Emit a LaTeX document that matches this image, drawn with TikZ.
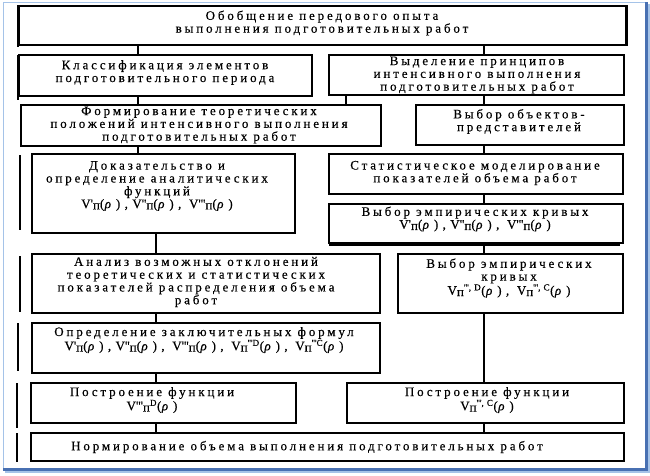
\documentclass[tikz,border=0pt]{standalone}
\usepackage{fontspec}
\setmainfont{Liberation Serif}[LetterSpace=22, FakeBold=0.35]
\definecolor{framelight}{RGB}{165,195,232}
\definecolor{framedark}{RGB}{72,112,178}
\newcommand\q{\textquotesingle}
\newcommand\pn{\raisebox{-1.3pt}{п}}
\newcommand\rh{(\kern0.5pt\textit{ρ}\kern0.5pt)}
\newcommand\sps[1]{\textsuperscript{#1}}
\newcommand\fm[1]{{\addfontfeature{LetterSpace=34}#1}}
\tikzset{
  bx/.style={draw=black, line width=1.1pt, inner sep=0pt, outer sep=0pt, anchor=north west},
  tx/.style={align=center, inner sep=0pt, font=\fontsize{13}{12.8}\selectfont, text=black},
  conn/.style={draw=black, line width=1.1pt},
  bar/.style={draw=black, line width=2pt},
}
\newcommand\mkbox[5]{\node[bx, minimum width={(#4-#2)*1pt}, minimum height={(#5-#3)*1pt}] (#1) at (#2,#3) {};}
\begin{document}
\begin{tikzpicture}[x=1pt,y=-1pt]
\fill[white] (0,0) rectangle (650,475);
\useasboundingbox (0,0) rectangle (650,475);
% frame
\draw[framelight, line width=1pt] (3,2) -- (646,2);
\draw[framelight, line width=1pt] (3,2) -- (3,469);
\draw[framedark, line width=2.5pt] (646.5,2) -- (646.5,469.5) -- (3,469.5);
\draw[framelight, line width=1.2pt] (649,4) -- (649,472) -- (5,472);
% boxes
\mkbox{top}{19}{6}{626}{45}
\mkbox{klass}{19}{55}{312}{96}
\mkbox{vydel}{329}{55}{624}{95}
\mkbox{formir}{21}{105}{381}{146}
\mkbox{vobj}{416}{105}{624}{145}
\mkbox{dokaz}{32}{154}{295}{233}
\mkbox{stat}{329}{154}{623}{194}
\mkbox{vemp}{329}{204}{623}{243}
\mkbox{analiz}{32}{254}{380}{313}
\mkbox{vemp2}{398}{254}{623}{313}
\mkbox{opred}{32}{323}{380}{373}
\mkbox{postrl}{31}{383}{296}{423}
\mkbox{postrr}{347}{383}{624}{423}
\mkbox{norm}{31}{433}{624}{461}
% side bars
\draw[bar] (18,5) -- (18,47);
\draw[bar] (627,5) -- (627,46);
\draw[bar] (18,55) -- (18,100);
\draw[bar] (20,155) -- (20,230);
\draw[bar] (20,256) -- (20,312);
\draw[bar] (18,323) -- (18,371);
\draw[bar] (17,383) -- (17,428);
\draw[bar] (17,433) -- (17,462);
\draw[conn] (vemp.south west) ++(0,2) -- ++(291,0);
% texts
\node[tx] (t1) at (322,23) {Обобщение передового опыта\\выполнения подготовительных работ};
\node[tx] (t2) at (165,72.5) {Классификация элементов\\подготовительного периода};
\node[tx] (t3) at (477,75) {Выделение принципов\\интенсивного выполнения\\подготовительных работ};
\node[tx] (t4) at (199,125) {Формирование теоретических\\положений интенсивного выполнения\\подготовительных работ};
\node[tx] (t5) at (519,121.5) {Выбор объектов-\\представителей};
\node[tx] (t6) at (157,186) {Доказательство и\\определение аналитических\\функций\\\fm{V\q\pn\rh,V\q\q\pn\rh, V\q\q\q\pn\rh}};
\node[tx] (t7) at (475,173) {Статистическое моделирование\\показателей объема работ};
\node[tx] (t8) at (475,219) {Выбор эмпирических кривых\\\fm{V\q\pn\rh,V\q\q\pn\rh, V\q\q\q\pn\rh}};
\node[tx] (t9) at (196,282) {Анализ возможных отклонений\\теоретических и статистических\\показателей распределения объема\\работ};
\node[tx] (t10) at (509,278) {Выбор эмпирических\\кривых\\\fm{V\pn\sps{\q\q\q,D}\rh, V\pn\sps{\q\q\q,C}\rh}};
\node[tx] (t11) at (204,340) {Определение заключительных формул\\\fm{V\q\pn\rh,V\q\q\pn\rh, V\q\q\q\pn\rh, V\pn\sps{\q\q\q D}\rh, V\pn\sps{\q\q\q C}\rh}};
\node[tx] (t12) at (152,400) {Построение функции\\\fm{V\q\q\q\pn\sps{D}\rh}};
\node[tx] (t13) at (487,400) {Построение функции\\\fm{V\pn\sps{\q\q\q,C}\rh}};
\node[tx] (t14) at (307,447) {Нормирование объема выполнения подготовительных работ};
% connector columns
\coordinate (xa) at (138,0);
\coordinate (xb) at (156,0);
\coordinate (xc) at (346,0);
\coordinate (xd) at (484,0);
\draw[conn] (top.south -| xa) -- (klass.north -| xa);
\draw[conn] (top.south -| xd) -- (vydel.north -| xd);
\draw[conn] (klass.south -| xa) -- (formir.north -| xa);
\draw[conn] (vydel.south -| xc) -- (formir.north -| xc);
\draw[conn] (vydel.south -| xd) -- (vobj.north -| xd);
\draw[conn] (formir.south -| xa) -- (dokaz.north -| xa);
\draw[conn] (vobj.south -| xd) -- (stat.north -| xd);
\draw[conn] (stat.south -| xd) -- (vemp.north -| xd);
\draw[conn] (vemp.south -| xd) -- (vemp2.north -| xd);
\draw[conn] (dokaz.south -| xb) -- (analiz.north -| xb);
\draw[conn] (analiz.south -| xb) -- (opred.north -| xb);
\draw[conn] (opred.south -| xb) -- (postrl.north -| xb);
\draw[conn] (vemp2.south -| xd) -- (postrr.north -| xd);
\draw[conn] (postrl.south -| xb) -- (norm.north -| xb);
\draw[conn] (postrr.south -| xd) -- (norm.north -| xd);
\end{tikzpicture}
\end{document}
